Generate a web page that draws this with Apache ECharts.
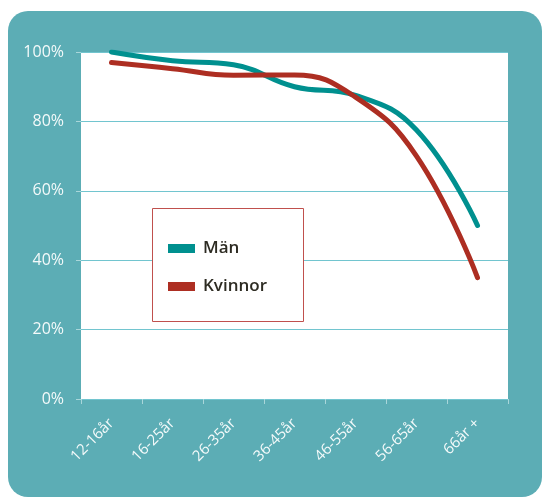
<!DOCTYPE html>
<html>
<head>
<meta charset="utf-8">
<script src="https://cdn.jsdelivr.net/npm/echarts@6/dist/echarts.min.js"></script>
<style>
html,body{margin:0;padding:0;background:#fff;}
#chart{width:542px;height:497px;}
</style>
</head>
<body>
<div id="chart"></div>
<script>
var categories = ['12-16år', '16-25år', '26-35år', '36-45år', '46-55år', '56-65år', '66år +'];
var menValues = [100, 97.5, 96.3, 90, 87.5, 77.5, 50];
var womenValues = [97, 95.2, 93.3, 93.4, 87, 70, 35];
var seriesNames = ['Män', 'Kvinnor'];
var yTicks = [0, 20, 40, 60, 80, 100];

var TEAL_BG = '#5cadb5';
var chart = echarts.init(document.getElementById('chart'), null, {renderer: 'canvas'});
chart.setOption({
  animation: false,
  backgroundColor: '#ffffff',
  graphic: [
    {type: 'rect', z: -10, silent: true, shape: {x: 8, y: 11, width: 534, height: 486, r: 20}, style: {fill: TEAL_BG}},
    {type: 'rect', z: 5, silent: true, shape: {x: 152.5, y: 208.5, width: 151, height: 113}, style: {fill: '#ffffff', stroke: '#c0504d', lineWidth: 1}}
  ],
  grid: {left: 81, top: 52, right: 34, bottom: 98, show: true, backgroundColor: '#ffffff', borderWidth: 0},
  legend: {
    data: seriesNames,
    orient: 'vertical',
    left: 168, top: 240,
    padding: 0,
    z: 10,
    icon: 'rect',
    itemWidth: 27, itemHeight: 9, itemGap: 21,
    textStyle: {fontFamily: 'Open Sans', fontWeight: 600, fontSize: 17, color: '#2d2b22', padding: [0,0,0,3]}
  },
  xAxis: {
    type: 'category',
    data: categories,
    boundaryGap: true,
    axisLine: {show: false},
    axisTick: {show: true, length: 5, lineStyle: {color: '#a9d6da'}},
    axisLabel: {rotate: 45, margin: 22, color: '#f4fafa', fontFamily: 'Open Sans', fontSize: 15},
    splitLine: {show: false}
  },
  yAxis: {
    type: 'value',
    min: 0, max: 100, interval: 20,
    axisLine: {show: false},
    axisTick: {show: true, length: 5, lineStyle: {color: '#a9d6da'}},
    axisLabel: {margin: 17, color: '#f4fafa', fontFamily: 'Open Sans', fontSize: 16, formatter: function (v) { return yTicks.indexOf(v) >= 0 ? v + '%' : ''; }},
    splitLine: {show: true, lineStyle: {color: '#72c5cf', width: 1}}
  },
  series: [
    {name: seriesNames[0], type: 'line', data: menValues, smooth: 0.45, showSymbol: false, symbol: 'none',
     lineStyle: {color: '#00908f', width: 5, cap: 'round'}, itemStyle: {color: '#00908f'}, z: 3},
    {name: seriesNames[1], type: 'line', data: womenValues, smooth: 0.45, showSymbol: false, symbol: 'none',
     lineStyle: {color: '#ad2e22', width: 5, cap: 'round'}, itemStyle: {color: '#ad2e22'}, z: 4}
  ]
});
</script>
</body>
</html>
